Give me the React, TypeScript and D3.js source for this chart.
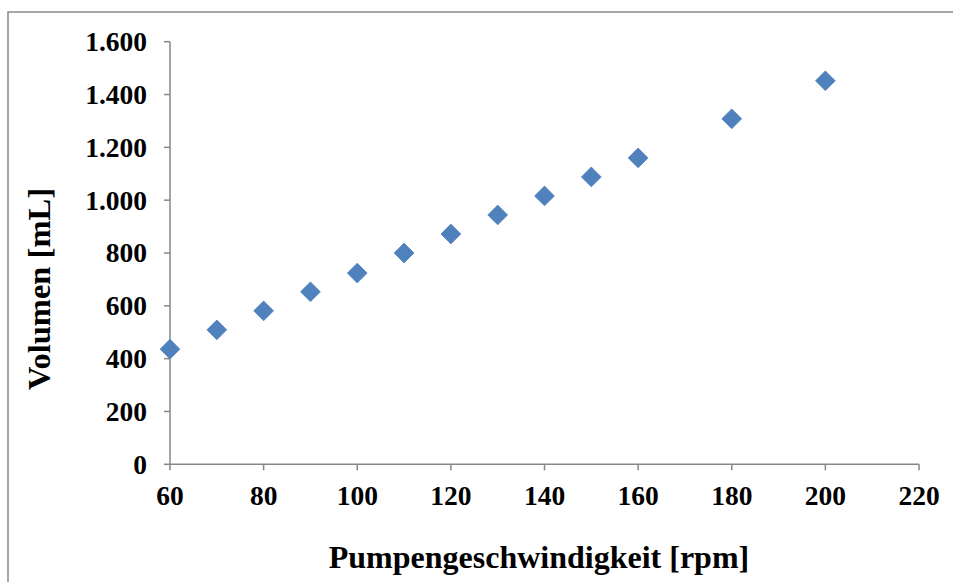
import React from "react";
import * as d3 from "d3";

const rpm = [60, 70, 80, 90, 100, 110, 120, 130, 140, 150, 160, 180, 200];
const volume = [436, 509, 581, 653, 724, 800, 872, 944, 1016, 1088, 1160, 1308, 1452];
const xTicks = [60, 80, 100, 120, 140, 160, 180, 200, 220];
const yTicks = [0, 200, 400, 600, 800, 1000, 1200, 1400, 1600];
const xTitle = "Pumpengeschwindigkeit [rpm]";
const yTitle = "Volumen [mL]";

const W = 953;
const H = 582;
const left = 170;
const right = 919;
const top = 41.7;
const bottom = 464.3;

const fmt = (v: number) => (v >= 1000 ? d3.format(",")(v).replace(",", ".") : String(v));

export default function App() {
  const x = d3.scaleLinear().domain([60, 220]).range([left, right]);
  const y = d3.scaleLinear().domain([0, 1600]).range([bottom, top]);
  const diamond = d3.symbol().type(d3.symbolDiamond2).size(250)();
  const axisColor = "#878787";
  const font = "'Liberation Serif', 'Times New Roman', serif";
  return (
    <svg width={W} height={H} style={{ position: "absolute", left: 0, top: 0, background: "#fff" }}>
      <rect x={8} y={12} width={W + 10} height={H + 10} fill="#fff" stroke="#898989" strokeWidth={1.5} />
      <g stroke={axisColor} strokeWidth={1.5} fill="none">
        <line x1={left} x2={left} y1={top} y2={bottom} />
        <line x1={left} x2={right} y1={bottom} y2={bottom} />
        {yTicks.map((t) => (
          <line key={"yt" + t} x1={left - 6} x2={left} y1={y(t)} y2={y(t)} />
        ))}
        {xTicks.map((t) => (
          <line key={"xt" + t} x1={x(t)} x2={x(t)} y1={bottom} y2={bottom + 6} />
        ))}
      </g>
      <g fontFamily={font} fontWeight="bold" fontSize={27.5} fill="#000">
        {yTicks.map((t) => (
          <text key={"yl" + t} x={left - 23} y={y(t)} dy="0.34em" textAnchor="end">
            {fmt(t)}
          </text>
        ))}
        {xTicks.map((t) => (
          <text key={"xl" + t} x={x(t)} y={505} textAnchor="middle">
            {t}
          </text>
        ))}
      </g>
      <text x={539} y={568} textAnchor="middle" fontFamily={font} fontWeight="bold" fontSize={32}>
        {xTitle}
      </text>
      <text
        transform={`translate(50, ${289}) rotate(-90)`}
        textAnchor="middle"
        fontFamily={font}
        fontWeight="bold"
        fontSize={32.5}
      >
        {yTitle}
      </text>
      <g>
        {rpm.map((r, i) => (
          <path
            key={"p" + r}
            d={diamond || ""}
            transform={`translate(${x(r)}, ${y(volume[i])})`}
            fill="#4F81BD"
            stroke="#4A7EBB"
            strokeWidth={0.75}
          />
        ))}
      </g>
    </svg>
  );
}
